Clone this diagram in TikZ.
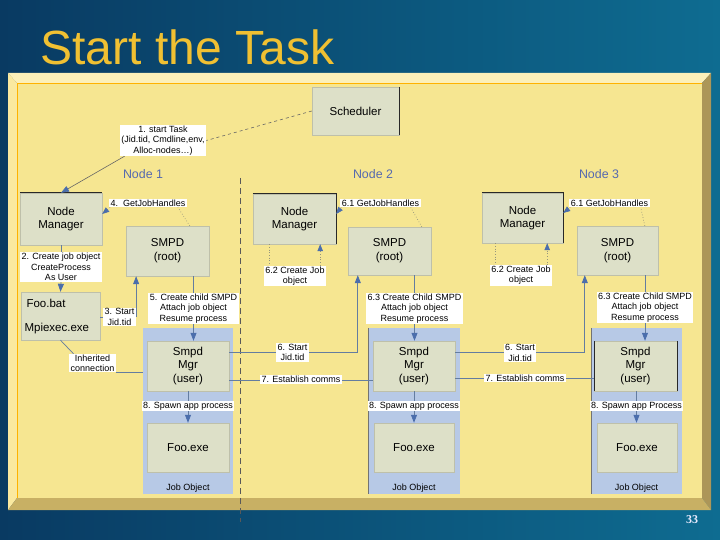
\documentclass[tikz,border=0pt]{standalone}
\usepackage{fontspec}
\setmainfont{Liberation Sans}
\newfontfamily\pgserif{Liberation Serif}
\usetikzlibrary{arrows.meta,calc}
\definecolor{bgl}{RGB}{9,58,98}
\definecolor{bgr}{RGB}{14,108,145}
\definecolor{titlec}{RGB}{240,192,50}
\definecolor{panel}{RGB}{246,230,145}
\definecolor{bevlight}{RGB}{252,240,185}
\definecolor{bevlight2}{RGB}{250,233,160}
\definecolor{bevdark}{RGB}{172,150,88}
\definecolor{bevdark2}{RGB}{200,176,100}
\definecolor{boxfill}{RGB}{221,224,200}
\definecolor{boxedge}{RGB}{190,192,170}
\definecolor{jobfill}{RGB}{183,201,230}
\definecolor{linec}{RGB}{100,125,160}
\definecolor{arrowc}{RGB}{75,110,172}
\definecolor{dotc}{RGB}{150,150,125}
\definecolor{nodec}{RGB}{85,105,175}
\definecolor{darkedge}{RGB}{40,40,40}
\newcommand\bxfont{\fontsize{11.5}{13.8}\selectfont}
\newcommand\lblfont{\fontsize{9}{10.3}\selectfont}
\pgfdeclarelayer{back}
\pgfdeclarelayer{front}
\pgfsetlayers{back,main,front}
\begin{document}
\begin{tikzpicture}[x=1pt,y=-1pt,
  box/.style={fill=boxfill, draw=boxedge, line width=0.4pt, align=center, inner sep=0pt, font=\bxfont},
  job/.style={fill=jobfill, inner sep=0pt},
  lab/.style={fill=white, inner xsep=1.5pt, inner ysep=1pt, align=center, font=\lblfont},
  ln/.style={draw=linec, line width=0.7pt},
  arr/.style={draw=linec, line width=0.8pt, -{Triangle[width=6pt,length=8pt,color=arrowc]}},
  dots/.style={draw=dotc, dotted, line width=0.7pt},
  dotarr/.style={draw=dotc, dotted, line width=0.7pt, -{Triangle[width=5.5pt,length=7pt,color=arrowc]}},
  dashc/.style={draw=gray!80!black, dashed, line width=0.6pt},
  edge/.style={draw=darkedge, line width=0.6pt},
  ntitle/.style={font=\fontsize{12.4}{14}\selectfont, text=nodec},
]
\useasboundingbox (0,0) rectangle (720,540);
\begin{pgfonlayer}{back}
\shade[left color=bgl, right color=bgr] (0,0) rectangle (720,540);
\node[anchor=base west, font=\fontsize{48}{48}\selectfont, text=titlec] (title) at (37,65) {Start the Task};
% panel bevel
\fill[bevlight] (8,73) -- (711,73) -- (702,83) -- (17,83) -- cycle;
\fill[bevlight2] (8,73) -- (17,83) -- (17,498) -- (8,510) -- cycle;
\fill[bevdark] (711,73) -- (711,510) -- (702,498) -- (702,83) -- cycle;
\fill[bevdark2] (8,510) -- (711,510) -- (702,498) -- (17,498) -- cycle;
\fill[panel] (17,83) rectangle (702,498);
\draw[orange!60!yellow, line width=0.5pt] (17,498) -- (17,83) -- (702,83);
% node titles
\node[ntitle] (n1t) at (143,174) {Node 1};
\node[ntitle] (n2t) at (373,174) {Node 2};
\node[ntitle] (n3t) at (599,174) {Node 3};
% divider
\coordinate (dvt) at (240,178);
\coordinate (dvb) at (240,522);
\draw[draw=black!65, dash pattern=on 6pt off 4pt, line width=0.6pt] (dvt) -- (dvb);
% job objects
\node[job, minimum width=90pt, minimum height=166pt] (job1) at (188,411) {};
\node[job, minimum width=92pt, minimum height=166pt] (job2) at (414,411) {};
\node[job, minimum width=91pt, minimum height=166pt] (job3) at (636.5,411) {};
\draw[edge, draw=black!55] (job2.north west) -- (job2.south west);
\draw[edge, draw=black!55] (job3.north west) -- (job3.south west);
\node[font=\lblfont] (jo1) at (188,488) {Job Object};
\node[font=\lblfont] (jo2) at (414,488) {Job Object};
\node[font=\lblfont] (jo3) at (636.5,488) {Job Object};
% gray boxes
\node[box, minimum width=87pt, minimum height=48pt] (sched) at (355.5,111) {Scheduler};
\draw[edge] (sched.north east) -- (sched.south east);
\node[box, minimum width=82pt, minimum height=52pt] (nm1) at (61,219) {Node\\Manager};
\draw[edge] (nm1.north west) -- (nm1.north east);
\node[box, minimum width=83pt, minimum height=50pt] (smpd1) at (167.5,251) {SMPD\\(root)};
\node[box, minimum width=79pt, minimum height=48pt] (foo) at (60.5,316) {};
\node[font=\bxfont, anchor=west] (foobat) at (23,303) {Foo.bat};
\node[font=\bxfont, anchor=west] (mpiexec) at (21,329) {Mpiexec.exe};
\node[box, minimum width=83pt, minimum height=50pt] (nm2) at (294.5,219) {Node\\Manager};
\draw[edge] (nm2.north west) -- (nm2.north east) -- (nm2.south east);
\node[box, minimum width=83pt, minimum height=48pt] (smpd2) at (389.5,251) {SMPD\\(root)};
\node[box, minimum width=81pt, minimum height=50pt] (nm3) at (522.5,218) {Node\\Manager};
\draw[edge] (nm3.north west) -- (nm3.north east) -- (nm3.south east);
\node[box, minimum width=81pt, minimum height=49pt] (smpd3) at (617.5,250.5) {SMPD\\(root)};
\node[box, minimum width=82pt, minimum height=50pt] (mgr1) at (188,366) {Smpd\\Mgr\\(user)};
\node[box, minimum width=82pt, minimum height=50pt] (mgr2) at (414,366) {Smpd\\Mgr\\(user)};
\node[box, minimum width=83pt, minimum height=50pt] (mgr3) at (635.5,366) {Smpd\\Mgr\\(user)};
\draw[edge] (mgr3.north west) -- (mgr3.south west);
\draw[edge] (mgr3.north east) -- (mgr3.south east);
\node[box, minimum width=82pt, minimum height=49pt] (fx1) at (188,447.5) {Foo.exe};
\node[box, minimum width=80pt, minimum height=49pt] (fx2) at (414,447.5) {Foo.exe};
\node[box, minimum width=80pt, minimum height=49pt] (fx3) at (637,447.5) {Foo.exe};
\node[font=\bfseries\fontsize{12}{12}\selectfont\pgserif, text=white!92!blue] (pg) at (692,520) {33};
\end{pgfonlayer}
% labels
\begin{pgfonlayer}{front}
\node[lab] (l1) at (163,140.5) {1. start Task\\(Jid.tid, Cmdline,env,\\Alloc-nodes…)};
\node[lab] (l4) at (148,203) {4.\ \ GetJobHandles};
\node[lab] (l61a) at (380.5,203) {6.1 GetJobHandles};
\node[lab] (l61b) at (609.5,203) {6.1 GetJobHandles};
\node[lab] (l2) at (61,267) {2. Create job object\\CreateProcess\\As User};
\node[lab] (l3) at (119.5,317) {3. Start\\Jid.tid};
\node[lab] (l5) at (193.5,308.5) {5. Create child SMPD\\Attach job object\\Resume process};
\node[lab] (l62a) at (295,276) {6.2 Create Job\\object};
\node[lab] (l62b) at (521,275.5) {6.2 Create Job\\object};
\node[lab] (l63a) at (414.5,308.5) {6.3 Create Child SMPD\\Attach job object\\Resume process};
\node[lab] (l63b) at (645,307.5) {6.3 Create Child SMPD\\Attach job object\\Resume process};
\node[lab] (linh) at (92.5,363) {Inherited\\connection};
\node[lab] (l6a) at (292.5,352.5) {6. Start\\Jid.tid};
\node[lab] (l6b) at (520,353) {6. Start\\Jid.tid};
\node[lab] (l7a) at (301,379.5) {7. Establish comms};
\node[lab] (l7b) at (525,378) {7. Establish comms};
\node[lab] (l8a) at (188,406) {8. Spawn app process};
\node[lab] (l8b) at (414,406) {8. Spawn app process};
\node[lab] (l8c) at (636.5,406) {8. Spawn app Process};
\end{pgfonlayer}
% connectors
\draw[dashc] (sched.west) -- (l1.east);
\draw[draw=gray!80!black, line width=0.6pt, -{Triangle[width=6pt,length=8pt,color=arrowc]}] ($(l1.south west)+(5,0)$) -- (nm1.north);
\draw[ln] (nm1.south) -- (l2.north);
\draw[arr] (l2.south) -- (foo.north);
\draw[ln] (l3.west -| foo.east) -- (l3.west);
\draw[arr] (l3.east) -- (l3.east |- smpd1.south);
\draw[ln] (l5.north |- smpd1.south) -- (l5.north);
\draw[arr] (l5.south) -- (l5.south |- mgr1.north);
\draw[ln] (foo.south) -- ($(linh.north west)+(5,1)$);
\draw[ln] (linh.south east) -- (linh.south east -| job1.west);
\draw[arr] ($(mgr1.east)+(0,-14)$) -| ($(smpd2.south west)+(10,0)$);
\draw[ln] ($(mgr1.east)+(0,14)$) -- ($(mgr2.west)+(0,14)$);
\draw[arr] ($(mgr2.east)+(0,-14)$) -| ($(smpd3.south west)+(8,0)$);
\draw[ln] ($(mgr2.east)+(0,12)$) -- ($(mgr3.west)+(0,12)$);
\draw[ln] (l63a.north |- smpd2.south) -- (l63a.north);
\draw[arr] (l63a.south) -- (l63a.south |- mgr2.north);
\draw[ln] (l63b.north |- smpd3.south) -- (l63b.north);
\draw[arr] (l63b.south) -- (l63b.south |- mgr3.north);
\draw[ln] (l8a.north |- mgr1.south) -- (l8a.north);
\draw[arr] (l8a.south) -- (fx1.north);
\draw[ln] (l8b.north |- mgr2.south) -- (l8b.north);
\draw[arr] (l8b.south) -- (fx2.north);
\draw[ln] (l8c.north |- mgr3.south) -- (l8c.north);
\draw[arr] (l8c.south) -- (l8c.south |- fx3.north);
% get job handles
\draw[dots] ($(smpd1.north west)+(64,0)$) -- ($(l4.south east)+(-9,0)$);
\draw[dotarr] ($(l4.south west)+(1,0)$) -- ($(nm1.east)+(0,-5)$);
\draw[dots] ($(smpd2.north west)+(74,0)$) -- ($(l61a.south east)+(-10,0)$);
\draw[dotarr] ($(l61a.south west)+(1,0)$) -- ($(nm2.east)+(0,-5)$);
\draw[dots] ($(smpd3.north west)+(68,0)$) -- ($(l61b.south east)+(-9,0)$);
\draw[dotarr] ($(l61b.south west)+(1,0)$) -- ($(nm3.east)+(0,-5)$);
% create job object
\coordinate (n2d1) at ($(nm2.south west)+(17,0)$);
\coordinate (n2d2) at ($(nm2.south east)+(-16,0)$);
\coordinate (n3d1) at ($(nm3.south west)+(14,0)$);
\coordinate (n3d2) at ($(nm3.south east)+(-16,0)$);
\draw[dots] (n2d1) -- (n2d1 |- l62a.north);
\draw[dotarr] (n2d2 |- l62a.north) -- (n2d2);
\draw[dots] (n3d1) -- (n3d1 |- l62b.north);
\draw[dotarr] (n3d2 |- l62b.north) -- (n3d2);
\end{tikzpicture}
\end{document}
